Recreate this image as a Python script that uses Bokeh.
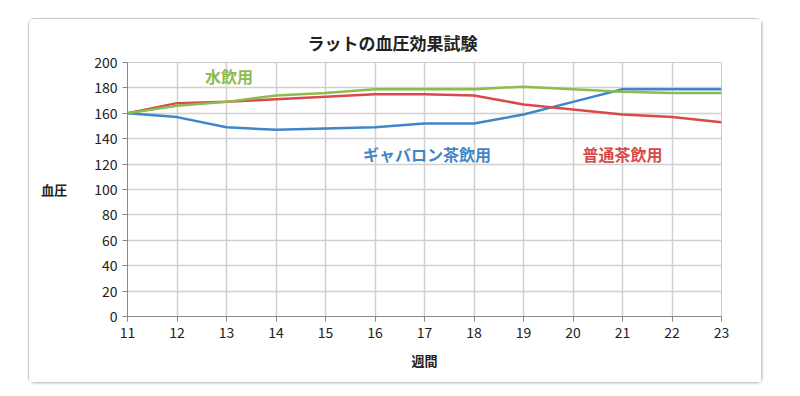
from bokeh.plotting import figure
from bokeh.embed import file_html
from bokeh.resources import INLINE
from bokeh.models import ColumnDataSource, FixedTicker, Range1d
from bokeh.core.properties import value

weeks = [11, 12, 13, 14, 15, 16, 17, 18, 19, 20, 21, 22, 23]
gaba = [160, 157, 149, 147, 148, 149, 152, 152, 159, 169, 179, 179, 179]
tea = [160, 168, 169, 171, 173, 175, 175, 174, 167, 163, 159, 157, 153]
water = [160, 166, 169, 174, 176, 179, 179, 179, 181, 179, 177, 176, 176]

series_names = ["ギャバロン茶飲用", "普通茶飲用", "水飲用"]
series_colors = ["#3F86C9", "#D9494B", "#8DBB4E"]
label_x = [17.05, 21.0, 13.05]
label_y = [128, 128, 189]

y_ticks = list(range(0, 201, 20))

FONT = "Noto Sans CJK JP"

p = figure(width=734, height=365, output_backend="svg", toolbar_location=None,
           x_range=Range1d(11, 23), y_range=Range1d(0, 200),
           min_border_left=98, min_border_right=42, min_border_top=43, min_border_bottom=68)
p.margin = (18, 0, 0, 28)
p.styles = {"border": "1px solid #c8c8c8", "border-radius": "6px",
            "box-shadow": "1px 1px 2px rgba(0,0,0,0.15)"}

p.title.text = "ラットの血圧効果試験"
p.title.align = "left"
p.title.offset = 180
p.title.text_font = FONT
p.title.text_font_size = "17px"
p.title.text_font_style = "bold"
p.title.text_color = "#222222"
p.title.standoff = 15

p.outline_line_color = "#cccccc"
p.xgrid.grid_line_color = "#d0d0d0"
p.ygrid.grid_line_color = "#d0d0d0"
p.xgrid.grid_line_width = 1.5
p.ygrid.grid_line_width = 1.5

p.xaxis.ticker = FixedTicker(ticks=weeks)
p.yaxis.ticker = FixedTicker(ticks=y_ticks)
for ax in (p.xaxis[0], p.yaxis[0]):
    ax.axis_line_color = "#888888"
    ax.major_tick_line_color = "#888888"
    ax.minor_tick_line_color = None
    ax.major_label_text_font = FONT
    ax.major_label_text_font_size = "14px"
    ax.major_label_text_color = "#222222"
    ax.axis_label_text_font = FONT
    ax.axis_label_text_font_size = "13px"
    ax.axis_label_text_font_style = "bold"
    ax.axis_label_text_color = "#222222"
p.xaxis.major_tick_in = 0
p.xaxis.major_tick_out = 5
p.yaxis.major_tick_in = 0
p.yaxis.major_tick_out = 5
p.xaxis.axis_label = "週間"
p.xaxis.axis_label_standoff = 10
p.yaxis.axis_label = "血圧"
p.yaxis.axis_label_orientation = "horizontal"
p.yaxis.axis_label_standoff = 24

for vals, col in zip([gaba, tea, water], series_colors):
    src = ColumnDataSource(dict(x=weeks, y=vals))
    p.line("x", "y", source=src, line_color=col, line_width=2.5)

lsrc = ColumnDataSource(dict(x=label_x, y=label_y, t=series_names, c=series_colors))
p.text("x", "y", text="t", source=lsrc, text_color="c", text_font=value(FONT),
       text_font_size="16px", text_font_style="bold", text_align="center",
       text_baseline="middle")

open("out.html", "w").write(file_html(p, INLINE))
